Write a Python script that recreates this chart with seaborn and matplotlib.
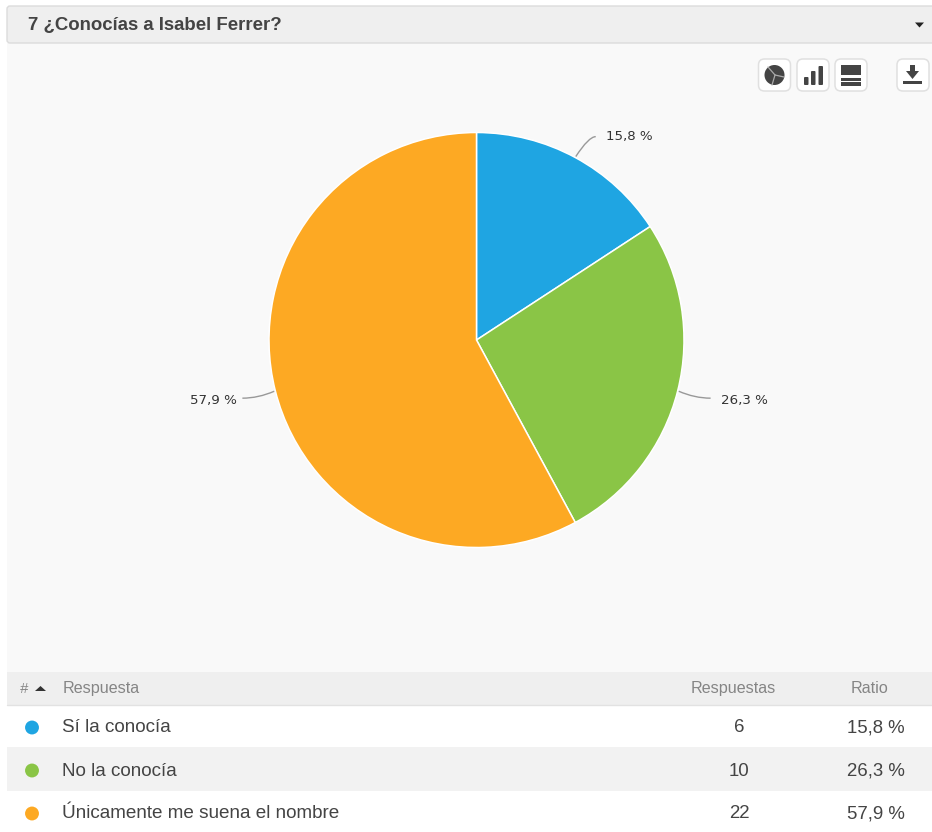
import numpy as np
import pandas as pd
import matplotlib.pyplot as plt
import seaborn as sns
from matplotlib.patches import FancyBboxPatch, Rectangle, Wedge, Polygon, PathPatch
from matplotlib.path import Path

# Data
title = "7 ¿Conocías a Isabel Ferrer?"
answers = ["Sí la conocía", "No la conocía", "Únicamente me suena el nombre"]
responses = [6, 10, 22]
ratios = [15.8, 26.3, 57.9]
colors = ["#1FA5E2", "#8AC546", "#FDA923"]
header_labels = ["Respuesta", "Respuestas", "Ratio"]

W, H = 932, 832
CX, CY, R = 476.5, 340, 207.5
TEXT = "#444444"
HEAD = "#858585"
ICON = "#444444"

sns.set_theme(style="white")
plt.rcParams["font.family"] = ["Liberation Sans", "DejaVu Sans"]

fig = plt.figure(figsize=(W / 100, H / 100), dpi=100, facecolor="white")

# overlay in pixel coordinates for the page furniture
ui = fig.add_axes([0, 0, 1, 1])
ui.set_xlim(0, W)
ui.set_ylim(H, 0)
ui.axis("off")

ui.add_patch(Rectangle((7, 43), W - 7, H - 43, fc="#F9F9F9", ec="none"))
ui.add_patch(FancyBboxPatch((7, 6), W, 37, boxstyle="round,pad=0,rounding_size=3",
                            fc="#EFEFEF", ec="#DCDCDC", lw=1))
ui.text(28, 30, title, fontsize=13.45, fontweight="bold", color="#444444", va="baseline")
ui.add_patch(Polygon([[915, 22.5], [924, 22.5], [919.5, 27.5]], fc="#222222", ec="none"))


def icon_box(x):
    ui.add_patch(FancyBboxPatch((x, 59), 32, 32, boxstyle="round,pad=0,rounding_size=6",
                                fc="white", ec="#E0E0E0", lw=1.1))


# chart type buttons
for x in [758.5, 797, 835, 897]:
    icon_box(x)
ui.add_patch(Wedge((774.5, 75), 10, 0, 360, fc=ICON, ec="none"))
for end in [(768, 67), (784, 77), (772, 85)]:
    ui.plot([775, end[0]], [75, end[1]], color="#AAAAAA", lw=0.9)
for x, top in zip([804, 811, 818.5], [77, 71, 66]):
    ui.add_patch(FancyBboxPatch((x, top), 4.5, 85 - top, boxstyle="round,pad=0,rounding_size=1",
                                fc=ICON, ec="none"))
for top, h in [(65, 10), (77.5, 3.5), (82, 3.5)]:
    ui.add_patch(Rectangle((841, top), 20, h, fc=ICON, ec="none"))
ui.add_patch(Polygon([[910, 65], [915, 65], [915, 71], [919, 71], [912.5, 79], [906, 71], [910, 71]],
                     fc=ICON, ec="none"))
ui.add_patch(Rectangle((903, 81), 19, 3, fc=ICON, ec="none"))

# table backgrounds
ui.add_patch(Rectangle((7, 672), W, 33, fc="#EFEFEF", ec="none"))
ui.plot([7, W], [705, 705], color="#E2E2E2", lw=1)
ui.add_patch(Rectangle((7, 706), W, 41, fc="white", ec="none"))
ui.add_patch(Rectangle((7, 747), W, 44, fc="#F2F2F2", ec="none"))
ui.add_patch(Rectangle((7, 791), W, 41, fc="white", ec="none"))

# table header
ui.text(20, 693, "#", fontsize=10.5, color=HEAD, style="italic", va="baseline")
ui.add_patch(Polygon([[35, 691], [46, 691], [40.5, 686]], fc="#333333", ec="none"))
ui.text(63, 693, header_labels[0], fontsize=11.6, color=HEAD, va="baseline")
ui.text(733, 693, header_labels[1], fontsize=11.6, color=HEAD, va="baseline", ha="center")
ui.text(869.5, 693, header_labels[2], fontsize=11.6, color=HEAD, va="baseline", ha="center")

# table rows
row_y = [727.5, 770.5, 813.5]
table = pd.DataFrame({"x": [32] * 3, "y": row_y, "answer": answers})
sns.scatterplot(data=table, x="x", y="y", hue="answer", palette=colors, s=100,
                linewidth=0, legend=False, ax=ui)
ui.set_xlim(0, W)
ui.set_ylim(H, 0)
for y, answer, n, ratio in zip(row_y, answers, responses, ratios):
    ui.text(62, y + 5, answer, fontsize=13.55, color=TEXT, va="baseline")
    ui.text(739, y + 5, str(n), fontsize=13.45, color=TEXT, va="baseline", ha="center")
    ui.text(905, y + 5, f"{ratio:.1f} %".replace(".", ","), fontsize=13.45, color=TEXT,
            va="baseline", ha="right")

# pie on its own axes
ax = fig.add_axes([(CX - R) / W, 1 - (CY + R) / H, 2 * R / W, 2 * R / H])
ax.patch.set_alpha(0)
ax.pie(responses, colors=colors, startangle=90, counterclock=False,
       wedgeprops={"edgecolor": "white", "linewidth": 1.1, "clip_on": False})
ax.set_xlim(-1, 1)
ax.set_ylim(-1, 1)

# leader lines and labels start from each slice's middle angle
cum = np.cumsum(responses)
mid = (cum - np.array(responses) / 2) / cum[-1] * 2 * np.pi
for angle, ratio in zip(mid, ratios):
    ex = CX + (R + 1) * np.sin(angle)
    ey = CY - (R + 1) * np.cos(angle)
    side = 1 if np.sin(angle) > 0 else -1
    if np.cos(angle) > 0:
        tx, ty = ex + 20, ey - 20
        ctrl = (ex + 13, ty)
        label_y = ty + 3.5
    else:
        tx, ty = ex + side * 32, ey + 7
        ctrl = (ex + side * 16, ey + 7)
        label_y = ty + 5.5
    ui.add_patch(PathPatch(Path([(ex, ey), ctrl, (tx, ty)], [Path.MOVETO, Path.CURVE3, Path.CURVE3]),
                           fc="none", ec="#999999", lw=1, zorder=5))
    ui.text(tx + (10 if side > 0 else -6), label_y, f"{ratio:.1f} %".replace(".", ","),
            family=["DejaVu Sans"], fontsize=9.6, color="#333333", va="baseline",
            ha="left" if side > 0 else "right", zorder=5)

fig.savefig("out.png", dpi=100)
